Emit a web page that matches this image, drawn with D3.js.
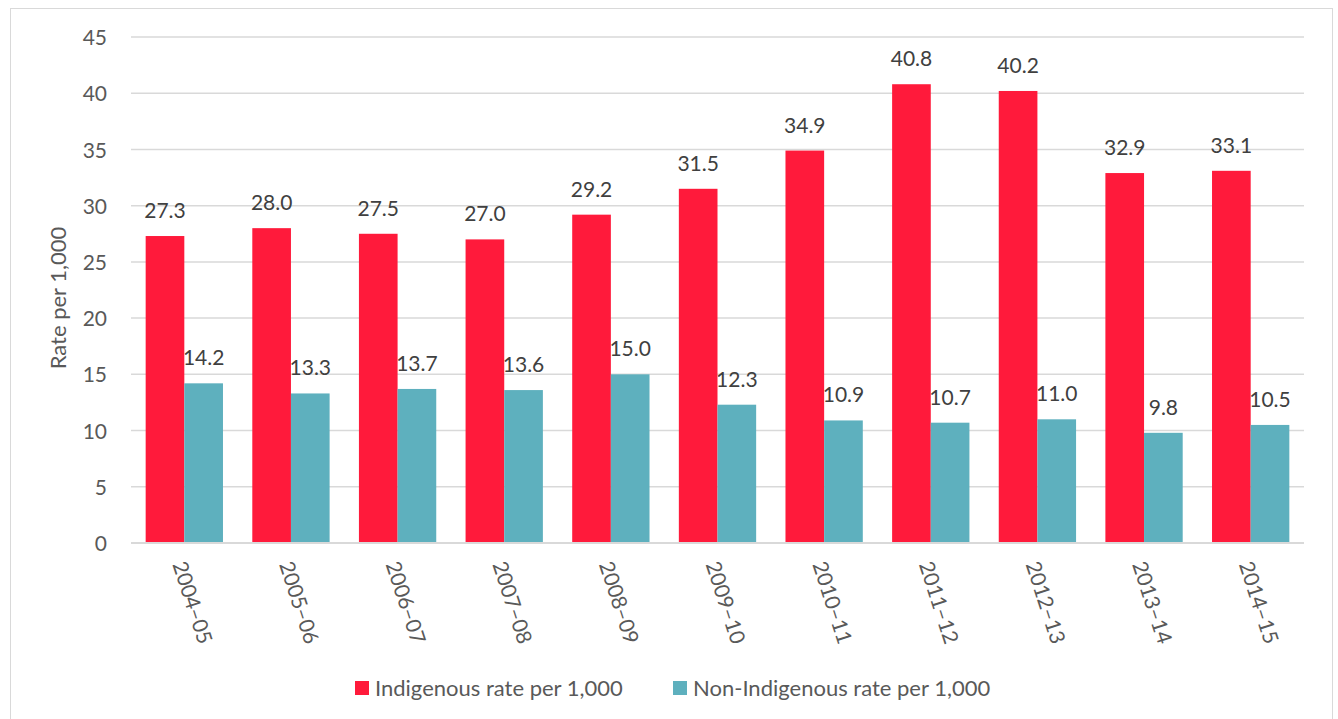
<!DOCTYPE html>
<html lang="en">
<head>
<meta charset="UTF-8">
<title>Indigenous rate per 1,000</title>
<style>
  body { margin: 0; background: #fff; }
  text { font-family: Lato, "Liberation Sans", sans-serif; }
</style>
</head>
<body>
<svg width="1338" height="719"></svg>
<script src="https://d3js.org/d3.v7.min.js"></script>
<script>
var categories = ["2004\u201305","2005\u201306","2006\u201307","2007\u201308","2008\u201309","2009\u201310","2010\u201311","2011\u201312","2012\u201313","2013\u201314","2014\u201315"];
var indigenous = [27.3, 28.0, 27.5, 27.0, 29.2, 31.5, 34.9, 40.8, 40.2, 32.9, 33.1];
var nonIndigenous = [14.2, 13.3, 13.7, 13.6, 15.0, 12.3, 10.9, 10.7, 11.0, 9.8, 10.5];
var seriesNames = ["Indigenous rate per 1,000", "Non-Indigenous rate per 1,000"];
var yTicks = [0, 5, 10, 15, 20, 25, 30, 35, 40, 45];

var colors = ["#FF1A3B", "#5EB0BE"];
var textColor = "#595959";

var svg = d3.select("svg");
// border around the whole chart
svg.append("rect")
  .attr("x", 10.5).attr("y", 8.5)
  .attr("width", 1322).attr("height", 720)
  .attr("fill", "none").attr("stroke", "#D9D9D9");

var plot = {left: 131, right: 1304, top: 37, bottom: 543};

var x0 = d3.scaleBand()
  .domain(categories)
  .range([plot.left, plot.right])
  .paddingInner(0.275)
  .paddingOuter(0.1375);
var x1 = d3.scaleBand()
  .domain([0, 1])
  .range([0, x0.bandwidth()]);
var y = d3.scaleLinear()
  .domain([0, 45])
  .range([plot.bottom, plot.top]);

// gridlines
svg.append("g").selectAll("line")
  .data(yTicks)
  .enter().append("line")
  .attr("x1", plot.left).attr("x2", plot.right)
  .attr("y1", function(d){ return y(d); })
  .attr("y2", function(d){ return y(d); })
  .attr("stroke", "#D9D9D9")
  .attr("stroke-width", 1.5);

// y axis labels
var yAxis = d3.axisLeft(y).tickValues(yTicks).tickSize(0).tickPadding(0);
var gy = svg.append("g")
  .attr("transform", "translate(107,0)")
  .call(yAxis);
gy.select(".domain").remove();
gy.selectAll("text")
  .attr("fill", textColor)
  .style("font-size", "21px")
  .attr("dy", "0.36em");

// bars
var groups = svg.append("g").selectAll("g")
  .data(categories)
  .enter().append("g")
  .attr("transform", function(d){ return "translate(" + x0(d) + ",0)"; });

var rows = categories.map(function(c, i){ return [indigenous[i], nonIndigenous[i]]; });

groups.selectAll("rect")
  .data(function(d, i){ return rows[i]; })
  .enter().append("rect")
  .attr("x", function(d, j){ return x1(j); })
  .attr("y", function(d){ return y(d); })
  .attr("width", x1.bandwidth())
  .attr("height", function(d){ return y(0) - y(d); })
  .attr("fill", function(d, j){ return colors[j]; });

groups.selectAll("text.val")
  .data(function(d, i){ return rows[i]; })
  .enter().append("text")
  .attr("class", "val")
  .attr("x", function(d, j){ return x1(j) + x1.bandwidth()/2; })
  .attr("y", function(d){ return y(d) - 18; })
  .attr("text-anchor", "middle")
  .attr("fill", "#404040")
  .style("font-size", "21px")
  .text(function(d){ return d.toFixed(1); });

// zero axis line
svg.append("line")
  .attr("x1", plot.left).attr("x2", plot.right)
  .attr("y1", y(0)).attr("y2", y(0))
  .attr("stroke", "#D9D9D9").attr("stroke-width", 2);

// x axis labels
var xAxis = d3.axisBottom(x0).tickSize(0).tickPadding(0);
var gx = svg.append("g")
  .attr("transform", "translate(0," + y(0) + ")")
  .call(xAxis);
gx.select(".domain").remove();
gx.selectAll("text")
  .attr("fill", textColor)
  .style("font-size", "21px")
  .attr("text-anchor", "start")
  .attr("transform", "translate(-5,19) rotate(72)")
  .attr("x", 0).attr("y", 0).attr("dy", "0.35em");

// y axis title
svg.append("text")
  .attr("transform", "translate(66,298) rotate(-90)")
  .attr("text-anchor", "middle")
  .attr("fill", textColor)
  .style("font-size", "22px")
  .text("Rate per 1,000");

// legend
var legendX = [355, 673];
var legend = svg.append("g").selectAll("g")
  .data(seriesNames)
  .enter().append("g")
  .attr("transform", function(d, i){ return "translate(" + legendX[i] + ",681)"; });
legend.append("rect")
  .attr("width", 14).attr("height", 14)
  .attr("fill", function(d, i){ return colors[i]; });
legend.append("text")
  .attr("x", 20).attr("y", 7).attr("dy", "0.36em")
  .attr("fill", textColor)
  .style("font-size", "22px")
  .text(function(d){ return d; });
</script>
</body>
</html>
